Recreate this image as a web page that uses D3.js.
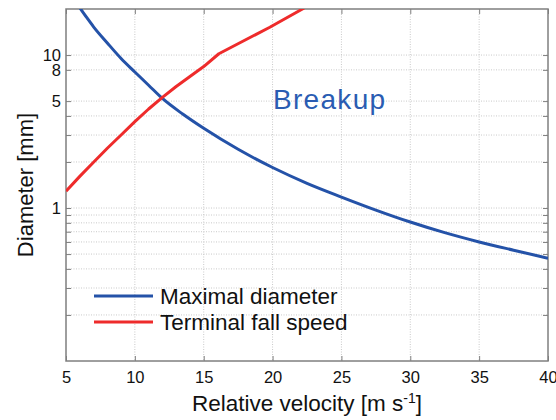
<!DOCTYPE html>
<meta charset="utf-8">
<head>
    <title>Breakup diameter</title>
    <script src="https://d3js.org/d3.v7.min.js"></script>
    <style>
        body { margin: 0; background: #ffffff; }
        text { font-family: "Liberation Sans", Arial, sans-serif; }
    </style>
</head>
<body>
<div id="my_dataviz"></div>
<script>

// data
var xTicks = [5, 10, 15, 20, 25, 30, 35, 40];
var yGrid = [0.2, 0.3, 0.4, 0.5, 0.6, 0.7, 0.8, 0.9, 1, 2, 3, 4, 5, 8, 10];
var yLabels = [1, 5, 8, 10];

// maximal diameter (blue)
var maxV = [5.9, 6.5, 7, 8, 9, 10, 11, 12, 13.5, 15, 17.5, 20, 22.5, 25, 27.5, 30, 32.5, 35, 37.5, 40];
var maxD = [21, 17.6, 15.3, 12.0, 9.5, 7.75, 6.35, 5.2, 4.1, 3.32, 2.42, 1.84, 1.45, 1.18, 0.97, 0.81, 0.69, 0.60, 0.53, 0.47];

// terminal fall speed (red)
var fallV = [5, 6, 7, 8, 9, 10, 11, 12, 13, 14, 15, 16.1, 19.8, 22.3];
var fallD = [1.29, 1.61, 1.99, 2.46, 3.0, 3.67, 4.44, 5.29, 6.23, 7.24, 8.41, 10.2, 15.2, 20.3];

var seriesNames = ["Maximal diameter", "Terminal fall speed"];
var seriesColors = ["#2452a8", "#ee2b2b"];

var margin = {top: 9, right: 8, bottom: 59, left: 66},
    width = 556 - margin.left - margin.right,
    height = 420 - margin.top - margin.bottom;

var svg = d3.select("#my_dataviz")
    .append("svg")
    .attr("width", 556)
    .attr("height", 420)
    .append("g")
    .attr("transform", "translate(" + margin.left + "," + margin.top + ")");

var x = d3.scaleLinear()
    .domain([5, 40])
    .range([0, width]);

var y = d3.scaleLog()
    .domain([0.1, 20])
    .range([height, 0]);

// grid
var gridColor = "#c9c9c9";
svg.selectAll(".vgrid")
    .data(xTicks.slice(1, -1))
    .enter().append("line")
    .attr("x1", function(d) { return x(d); })
    .attr("x2", function(d) { return x(d); })
    .attr("y1", 0).attr("y2", height)
    .attr("stroke", gridColor)
    .attr("stroke-dasharray", "1,1.5");
svg.selectAll(".hgrid")
    .data(yGrid)
    .enter().append("line")
    .attr("x1", 0).attr("x2", width)
    .attr("y1", function(d) { return y(d); })
    .attr("y2", function(d) { return y(d); })
    .attr("stroke", gridColor)
    .attr("stroke-dasharray", "1,1.5");

// axes
var axisColor = "#7f7f7f";
var xAxis = svg.append("g")
    .attr("transform", "translate(0," + height + ")")
    .call(d3.axisBottom(x).tickValues(xTicks).tickSize(-5).tickPadding(10).tickSizeOuter(0));
var xTop = svg.append("g")
    .call(d3.axisTop(x).tickValues(xTicks).tickSize(-5).tickFormat("").tickSizeOuter(0));
var yAxis = svg.append("g")
    .call(d3.axisLeft(y).tickValues(yGrid).tickSize(-5).tickPadding(5).tickSizeOuter(0)
        .tickFormat(function(d) { return yLabels.indexOf(d) >= 0 ? d : ""; }));
var yRight = svg.append("g")
    .attr("transform", "translate(" + width + ",0)")
    .call(d3.axisRight(y).tickValues(yGrid).tickSize(-5).tickFormat("").tickSizeOuter(0));

[xAxis, xTop, yAxis, yRight].forEach(function(a) {
    a.select(".domain").remove();
    a.selectAll("line").attr("stroke", axisColor);
    a.selectAll("text").style("font-size", "16.5px").attr("fill", "#111");
});
xAxis.selectAll("text").attr("dy", "0.71em");

svg.append("rect")
    .attr("width", width).attr("height", height)
    .attr("fill", "none")
    .attr("stroke", axisColor)
    .attr("stroke-width", 1.5);

// lines
svg.append("clipPath").attr("id", "plotclip")
    .append("rect").attr("width", width).attr("height", height);

var line = d3.line()
    .x(function(d) { return x(d[0]); })
    .y(function(d) { return y(d[1]); });

svg.append("path")
    .datum(d3.zip(maxV, maxD))
    .attr("clip-path", "url(#plotclip)")
    .attr("fill", "none")
    .attr("stroke", seriesColors[0])
    .attr("stroke-width", 3)
    .attr("d", line.curve(d3.curveMonotoneX));

svg.append("path")
    .datum(d3.zip(fallV, fallD))
    .attr("clip-path", "url(#plotclip)")
    .attr("fill", "none")
    .attr("stroke", seriesColors[1])
    .attr("stroke-width", 3)
    .attr("stroke-linejoin", "round")
    .attr("d", line.curve(d3.curveLinear));

// annotation
svg.append("text")
    .attr("x", 207).attr("y", 100)
    .text("Breakup")
    .style("font-size", "28px")
    .style("letter-spacing", "1.3px")
    .attr("fill", "#2a5cb2");

// legend
seriesNames.forEach(function(name, i) {
    var ly = 287 + i * 26;
    svg.append("line")
        .attr("x1", 28).attr("x2", 87)
        .attr("y1", ly).attr("y2", ly)
        .attr("stroke", seriesColors[i])
        .attr("stroke-width", 3);
    svg.append("text")
        .attr("x", 94).attr("y", ly)
        .attr("dy", "0.35em")
        .text(name)
        .style("font-size", "22.5px")
        .attr("fill", "#111");
});

// axis labels
svg.append("text")
    .attr("text-anchor", "middle")
    .attr("x", width / 2)
    .attr("y", height + 50)
    .style("font-size", "22.5px")
    .attr("fill", "#111")
    .html("Relative velocity [m s<tspan baseline-shift='super' font-size='14px'>-1</tspan>]");

svg.append("text")
    .attr("text-anchor", "middle")
    .attr("transform", "rotate(-90)")
    .attr("x", -(185 - margin.top))
    .attr("y", -margin.left + 33)
    .style("font-size", "22px")
    .attr("fill", "#111")
    .text("Diameter [mm]");

</script>
</body>
</html>
